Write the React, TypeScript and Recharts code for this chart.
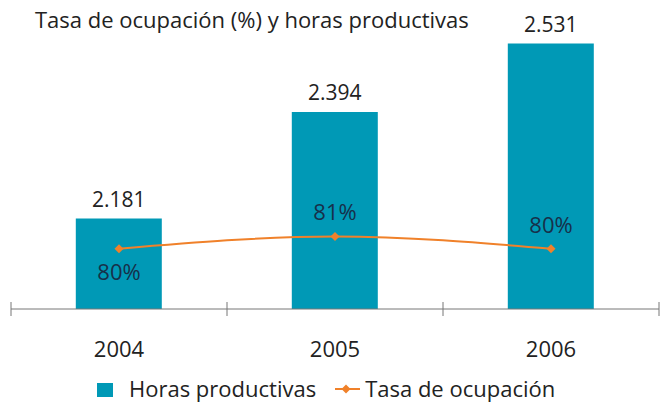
import React from "react"
import { ComposedChart, Bar, Line, XAxis, YAxis, LabelList, Legend } from "recharts"

const years = ["2004", "2005", "2006"]
const horasProductivas = [2181, 2394, 2531]
const tasaOcupacion = [80, 81, 80]

const data = years.map((year, i) => ({
  year,
  horas: horasProductivas[i],
  tasa: tasaOcupacion[i],
}))

const FONT = "'Open Sans', sans-serif"
const BAR_COLOR = "#0099b6"
const LINE_COLOR = "#f0812a"
const TEXT = "#222222"
const LABEL = "#17304a"

const formatThousands = (v: number) => {
  const s = String(v)
  return s.length > 3 ? s.slice(0, s.length - 3) + "." + s.slice(-3) : s
}

function YearTick(props: any) {
  const { x, y, payload, index } = props
  const half = payload?.offset ?? 108
  return (
    <g>
      <line x1={x - half} x2={x - half} y1={y - 7} y2={y + 7} stroke="#777" strokeWidth={1} />
      {index === years.length - 1 && (
        <line x1={x + half} x2={x + half} y1={y - 7} y2={y + 7} stroke="#777" strokeWidth={1} />
      )}
      <text x={x} y={y + 48} textAnchor="middle" fill={TEXT} fontSize={22} fontFamily={FONT}>
        {payload.value}
      </text>
    </g>
  )
}

function DiamondDot(props: any) {
  const { cx, cy } = props
  if (cx == null || cy == null) return null
  const r = 4.5
  return <path d={`M${cx},${cy - r}L${cx + r},${cy}L${cx},${cy + r}L${cx - r},${cy}Z`} fill={LINE_COLOR} />
}

function TasaLabel(props: any) {
  const { x, y, value, index } = props
  const below = index === 0
  return (
    <text
      x={x}
      y={below ? y + 31 : y - 16}
      textAnchor="middle"
      fill={LABEL}
      fontSize={22}
      fontFamily={FONT}
    >
      {`${value}%`}
    </text>
  )
}

function LegendContent() {
  return (
    <div
      style={{
        display: "flex",
        justifyContent: "flex-start",
        alignItems: "center",
        paddingLeft: 86,
        fontFamily: FONT,
        fontSize: 22,
        lineHeight: "28px",
        color: TEXT,
        gap: 19,
        height: 28,
      }}
    >
      <span style={{ display: "flex", alignItems: "center" }}>
        <span style={{ width: 16, height: 14, background: BAR_COLOR, marginRight: 16, marginTop: 4, display: "inline-block" }} />
        Horas productivas
      </span>
      <span style={{ display: "flex", alignItems: "center" }}>
        <svg width={25} height={14} style={{ marginRight: 5, marginTop: 2 }}>
          <line x1={0} x2={25} y1={7} y2={7} stroke={LINE_COLOR} strokeWidth={2} />
          <path d="M11,2.5L15.5,7L11,11.5L6.5,7Z" fill={LINE_COLOR} />
        </svg>
        Tasa de ocupación
      </span>
    </div>
  )
}

export default function App() {
  return (
    <div style={{ position: "absolute", left: 0, top: 0, width: 660, height: 402, background: "#fff" }}>
      <div
        style={{
          position: "absolute",
          left: 35,
          top: 4,
          fontFamily: FONT,
          fontSize: 22,
          color: TEXT,
          zIndex: 1,
          whiteSpace: "nowrap",
        }}
      >
        Tasa de ocupación (%) y horas productivas
      </div>
      <ComposedChart
        width={660}
        height={402}
        data={data}
        margin={{ top: 9, right: 1, left: 11, bottom: 0 }}
        barCategoryGap="30%"
      >
        <XAxis
          dataKey="year"
          height={65}
          axisLine={{ stroke: "#777", strokeWidth: 1 }}
          tickLine={false}
          tickSize={0}
          tickMargin={0}
          tick={<YearTick />}
          interval={0}
        />
        <YAxis yAxisId="left" hide domain={[2000, 2600]} />
        <YAxis yAxisId="right" orientation="right" hide domain={[75.1, 99.5]} />
        <Legend verticalAlign="bottom" height={28} content={<LegendContent />} />
        <Bar yAxisId="left" dataKey="horas" name="Horas productivas" fill={BAR_COLOR} isAnimationActive={false}>
          <LabelList
            dataKey="horas"
            position="top"
            offset={12}
            formatter={(v: any) => formatThousands(Number(v))}
            fill={TEXT}
            fontSize={21}
            fontFamily={FONT}
          />
        </Bar>
        <Line
          yAxisId="right"
          type="monotone"
          dataKey="tasa"
          name="Tasa de ocupación"
          stroke={LINE_COLOR}
          strokeWidth={2}
          dot={<DiamondDot />}
          activeDot={false}
          isAnimationActive={false}
        >
          <LabelList dataKey="tasa" content={<TasaLabel />} />
        </Line>
      </ComposedChart>
    </div>
  )
}
